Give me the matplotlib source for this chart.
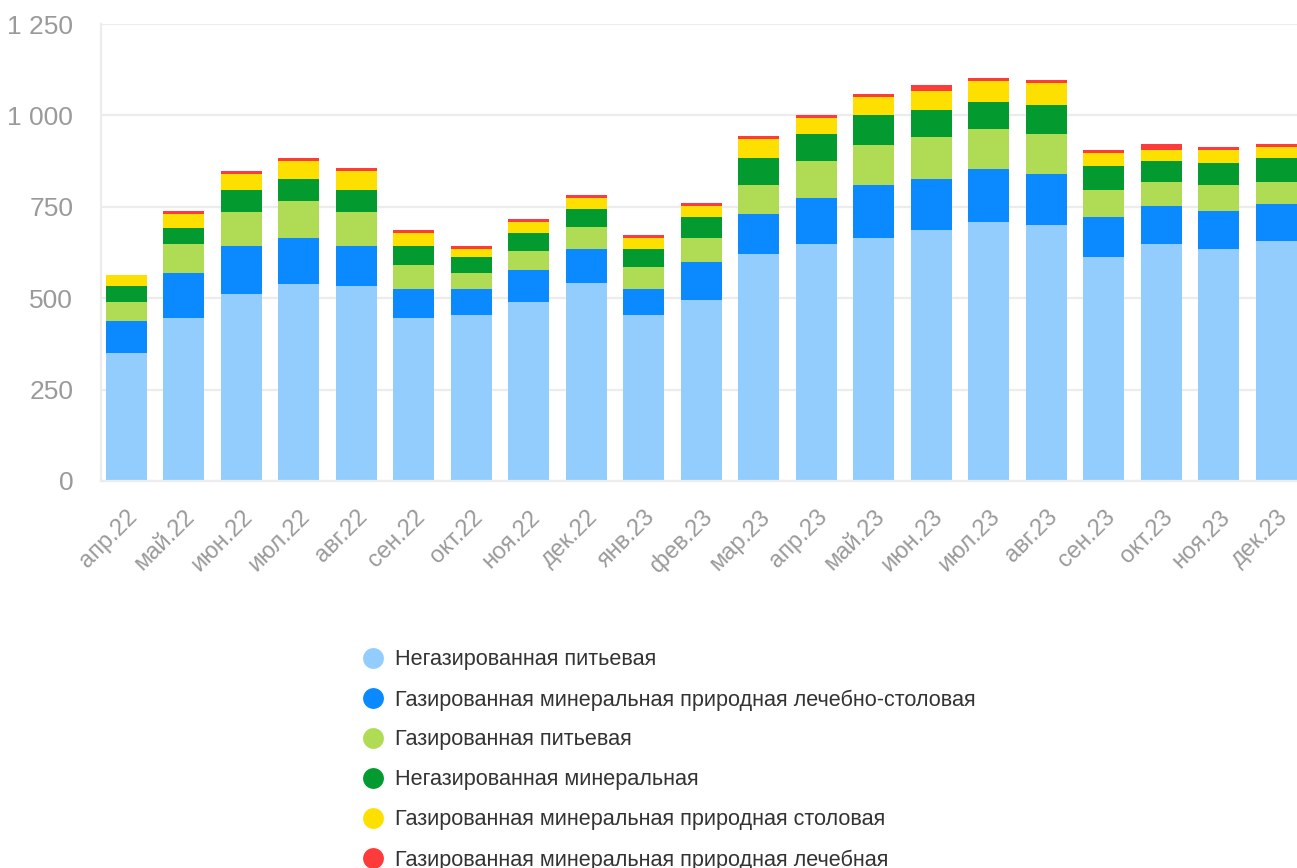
import numpy as np
import matplotlib
matplotlib.use("Agg")
import matplotlib.pyplot as plt
from matplotlib.lines import Line2D
from matplotlib.ticker import FuncFormatter

plt.rcParams['font.family'] = ['Liberation Sans', 'DejaVu Sans']

months = ['апр.22', 'май.22', 'июн.22', 'июл.22', 'авг.22', 'сен.22', 'окт.22',
          'ноя.22', 'дек.22', 'янв.23', 'фев.23', 'мар.23', 'апр.23', 'май.23',
          'июн.23', 'июл.23', 'авг.23', 'сен.23', 'окт.23', 'ноя.23', 'дек.23']

still_drinking = [351, 446, 512, 539, 533, 446, 454, 490, 542, 454, 495,
                  621, 648, 665, 687, 708, 700, 613, 648, 635, 656]
sparkling_med_table = [87, 123, 131, 126, 109, 79, 71, 87, 93, 71, 104,
                       109, 126, 145, 139, 145, 140, 109, 104, 104, 101]
sparkling_drinking = [52, 79, 93, 101, 93, 66, 44, 52, 60, 60, 66,
                      79, 101, 109, 115, 109, 109, 74, 66, 71, 60]
still_mineral = [44, 44, 60, 60, 60, 52, 44, 49, 49, 49, 57,
                 74, 74, 82, 74, 74, 79, 66, 57, 60, 66]
sparkling_table = [30, 38, 44, 49, 52, 36, 22, 30, 30, 30, 30,
                   52, 44, 49, 52, 57, 60, 36, 30, 36, 30]
sparkling_medical = [0, 8, 8, 8, 8, 8, 8, 8, 8, 8, 8,
                     8, 8, 8, 16, 8, 8, 8, 16, 8, 8]

series_names = ['Негазированная питьевая',
                'Газированная минеральная природная лечебно-столовая',
                'Газированная питьевая',
                'Негазированная минеральная',
                'Газированная минеральная природная столовая',
                'Газированная минеральная природная лечебная']
series = [still_drinking, sparkling_med_table, sparkling_drinking,
          still_mineral, sparkling_table, sparkling_medical]
colors = ['#92cdfe', '#0b89fe', '#b0dc55', '#039a30', '#fee000', '#fe3b3b']

W, H = 1297, 868
fig = plt.figure(figsize=(W / 100, H / 100), dpi=100)
ax = fig.add_axes([101 / W, 1 - 481 / H, (W - 101) / W, (481 - 24) / H])

x = np.arange(len(months))
bottom = np.zeros(len(months))
for vals, col in zip(series, colors):
    ax.bar(x, vals, bottom=bottom, width=0.71, color=col, linewidth=0)
    bottom += np.array(vals)

ax.set_ylim(0, 1250)
ax.set_xlim(-0.44, 20.36)
ax.set_yticks([0, 250, 500, 750, 1000, 1250])
ax.yaxis.set_major_formatter(FuncFormatter(lambda v, p: f'{int(v):,}'.replace(',', ' ')))
ax.set_axisbelow(True)
ax.grid(axis='y', color='#ececec', linewidth=1.6)
for s in ['top', 'right']:
    ax.spines[s].set_visible(False)
ax.spines['left'].set_color('#ececec')
ax.spines['left'].set_linewidth(1.6)
ax.spines['bottom'].set_color('#ececec')
ax.spines['bottom'].set_linewidth(1.6)
ax.tick_params(axis='y', length=0, pad=20, labelsize=19, labelcolor='#9a9a9a')
ax.tick_params(axis='x', length=0, pad=18, labelsize=17, labelcolor='#9a9a9a')
ax.set_xticks(x)
ax.set_xticklabels(months, rotation=45, ha='right', va='top', rotation_mode='anchor')

# legend drawn by hand: circle + label per row
for i, (lab, col) in enumerate(zip(series_names, colors)):
    yy = 1 - (658 + 40 * i) / H
    fig.add_artist(Line2D([373 / W], [yy], marker='o', markersize=15,
                          color=col, markeredgewidth=0, transform=fig.transFigure))
    fig.text(395 / W, yy - 2 / H, lab, fontsize=15.6, color='#333333',
             va='center', ha='left')

fig.savefig('out.png', dpi=100)
